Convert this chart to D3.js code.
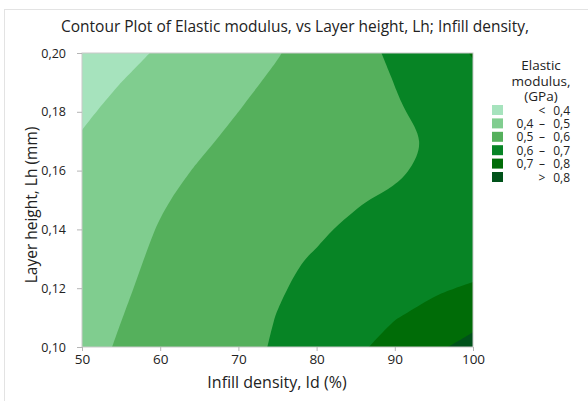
<!DOCTYPE html>
<html>
<head>
<meta charset="utf-8">
<script src="https://cdn.jsdelivr.net/npm/d3@7"></script>
<style>
  html, body { margin: 0; padding: 0; background: #fff; }
  svg { display: block; font-family: "Open Sans", "Noto Sans", sans-serif; }
</style>
</head>
<body>
<svg id="chart" width="588" height="401"></svg>
<script>
// Grid axes: infill density (%) and layer height (mm)
const infillDensity = [50, 55, 60, 65, 70, 75, 80, 85, 90, 95, 100];
const layerHeight = [0.10, 0.11, 0.12, 0.13, 0.14, 0.15, 0.16, 0.17, 0.18, 0.19, 0.20];

// Elastic modulus (GPa) on the grid, one row per layer height (0.10 first)
const modulus = [
  [0.480, 0.506, 0.530, 0.555, 0.580, 0.607, 0.645, 0.685, 0.730, 0.780, 0.835],
  [0.473, 0.499, 0.525, 0.551, 0.576, 0.602, 0.633, 0.664, 0.698, 0.7135, 0.765],
  [0.466, 0.492, 0.517, 0.543, 0.568, 0.594, 0.618, 0.642, 0.666, 0.6953, 0.704],
  [0.462, 0.486, 0.510, 0.534, 0.559, 0.5956, 0.6021, 0.626, 0.645, 0.665, 0.685],
  [0.459, 0.481, 0.503, 0.525, 0.546, 0.568, 0.596, 0.6059, 0.631, 0.650, 0.670],
  [0.445, 0.470, 0.495, 0.515, 0.534, 0.553, 0.572, 0.597, 0.6065, 0.640, 0.665],
  [0.432, 0.457, 0.482, 0.505, 0.523, 0.540, 0.558, 0.576, 0.593, 0.611, 0.655],
  [0.406, 0.434, 0.463, 0.491, 0.513, 0.532, 0.551, 0.571, 0.590, 0.603, 0.650],
  [0.390, 0.418, 0.445, 0.473, 0.500, 0.523, 0.547, 0.570, 0.594, 0.617, 0.660],
  [0.372, 0.400, 0.428, 0.456, 0.484, 0.512, 0.542, 0.571, 0.601, 0.640, 0.680],
  [0.349, 0.378, 0.408, 0.437, 0.466, 0.496, 0.534, 0.573, 0.614, 0.659, 0.705]
];

// Contour levels, band colours and legend labels
const levels = [0, 0.4, 0.5, 0.6, 0.7, 0.8];
const bandColors = ["#a6e3bd", "#80cd8f", "#55b05c", "#078425", "#006c07", "#00521a"];
const legendLabels = [["", "<", "0,4"], ["0,4", "–", "0,5"], ["0,5", "–", "0,6"],
                      ["0,6", "–", "0,7"], ["0,7", "–", "0,8"], ["", ">", "0,8"]];

const xTicks = [50, 60, 70, 80, 90, 100];
const yTicks = [0.10, 0.12, 0.14, 0.16, 0.18, 0.20];

const svg = d3.select("#chart");
const plot = { left: 82, right: 473, top: 53, bottom: 347 };
const comma = v => v.toString().replace(".", ",");

// Outer figure frame
svg.append("rect")
  .attr("x", 4.5).attr("y", 9.5).attr("width", 620).attr("height", 420)
  .attr("fill", "none").attr("stroke", "#e3e3e3");

const x = d3.scaleLinear().domain([50, 100]).range([plot.left, plot.right]);
const y = d3.scaleLinear().domain([0.10, 0.20]).range([plot.bottom, plot.top]);

// grid coordinate -> data value (samples sit at cell centres)
const nx = infillDensity.length, ny = layerHeight.length;
const gx = d3.scaleLinear().domain([0.5, nx - 0.5]).range([infillDensity[0], infillDensity[nx - 1]]);
const gy = d3.scaleLinear().domain([0.5, ny - 0.5]).range([layerHeight[0], layerHeight[ny - 1]]);

const contours = d3.contours().size([nx, ny]).thresholds(levels)(modulus.flat());

// Rings are clamped to the sampled extent and drawn as B-splines;
// points on the border are repeated so the curve passes through them.
const ringLine = d3.line().curve(d3.curveBasisClosed);
const clampX = v => Math.min(nx - 0.5, Math.max(0.5, v));
const clampY = v => Math.min(ny - 0.5, Math.max(0.5, v));
function ringPoints(ring) {
  const pts = [];
  ring.slice(0, -1).forEach(([cx, cy]) => {
    const px = clampX(cx), py = clampY(cy);
    const onEdge = px === 0.5 || px === nx - 0.5 || py === 0.5 || py === ny - 0.5;
    const p = [x(gx(px)), y(gy(py))];
    if (onEdge) pts.push(p, p, p); else pts.push(p);
  });
  return pts;
}
function bandPath(geom) {
  return geom.coordinates.map(polygon =>
    polygon.map(ring => ringLine(ringPoints(ring))).join("")).join("");
}

svg.append("clipPath").attr("id", "plot-clip")
  .append("rect")
  .attr("x", plot.left).attr("y", plot.top)
  .attr("width", plot.right - plot.left).attr("height", plot.bottom - plot.top);

svg.append("g").attr("clip-path", "url(#plot-clip)")
  .selectAll("path").data(contours).join("path")
  .attr("d", bandPath)
  .attr("fill", (d, i) => bandColors[i]);

// Plot frame
svg.append("rect")
  .attr("x", plot.left).attr("y", plot.top)
  .attr("width", plot.right - plot.left).attr("height", plot.bottom - plot.top)
  .attr("fill", "none").attr("stroke", "#c9c9c9");

// Axes
const xAxis = svg.append("g").attr("transform", `translate(0,${plot.bottom})`)
  .call(d3.axisBottom(x).tickValues(xTicks).tickSize(4).tickPadding(3).tickFormat(d => d));
const yAxis = svg.append("g").attr("transform", `translate(${plot.left},0)`)
  .call(d3.axisLeft(y).tickValues(yTicks).tickSize(5).tickPadding(11).tickFormat(d => comma(d3.format(".2f")(d))));
[xAxis, yAxis].forEach(a => {
  a.select(".domain").remove();
  a.selectAll(".tick line").attr("stroke", "#b5b5b5");
  a.selectAll(".tick text").attr("fill", "#222").style("font-family", "'Open Sans', sans-serif");
});
xAxis.selectAll(".tick text").style("font-size", "13.5px");
yAxis.selectAll(".tick text").style("font-size", "12.5px");

// Titles
svg.append("text")
  .attr("x", 295).attr("y", 32)
  .attr("text-anchor", "middle")
  .attr("fill", "#222")
  .style("font-size", "15.5px")
  .text("Contour Plot of Elastic modulus, vs Layer height, Lh; Infill density,");

svg.append("text")
  .attr("x", 277).attr("y", 388)
  .attr("text-anchor", "middle")
  .attr("fill", "#222")
  .style("font-size", "16px")
  .text("Infill density, Id (%)");

svg.append("text")
  .attr("transform", "translate(37,205) rotate(-90)")
  .attr("text-anchor", "middle")
  .attr("fill", "#222")
  .style("font-size", "15.5px")
  .text("Layer height, Lh (mm)");

// Legend
const legend = svg.append("g");
["Elastic", "modulus,", "(GPa)"].forEach((t, i) => {
  legend.append("text")
    .attr("x", 541).attr("y", 70 + i * 15.5)
    .attr("text-anchor", "middle")
    .attr("fill", "#222")
    .style("font-size", "13.5px")
    .text(t);
});
bandColors.forEach((c, i) => {
  const yy = 105 + i * 13.4;
  legend.append("rect")
    .attr("x", 492).attr("y", yy).attr("width", 11).attr("height", 10)
    .attr("fill", c);
  const [lo, sym, hi] = legendLabels[i];
  const label = legend.append("text").attr("y", yy + 9.5)
    .attr("fill", "#222").style("font-size", "12px");
  if (lo) label.append("tspan").attr("x", 525).attr("text-anchor", "middle").text(lo);
  label.append("tspan").attr("x", 542).attr("text-anchor", "middle").text(sym);
  label.append("tspan").attr("x", 570).attr("text-anchor", "end").text(hi);
});
</script>
</body>
</html>
